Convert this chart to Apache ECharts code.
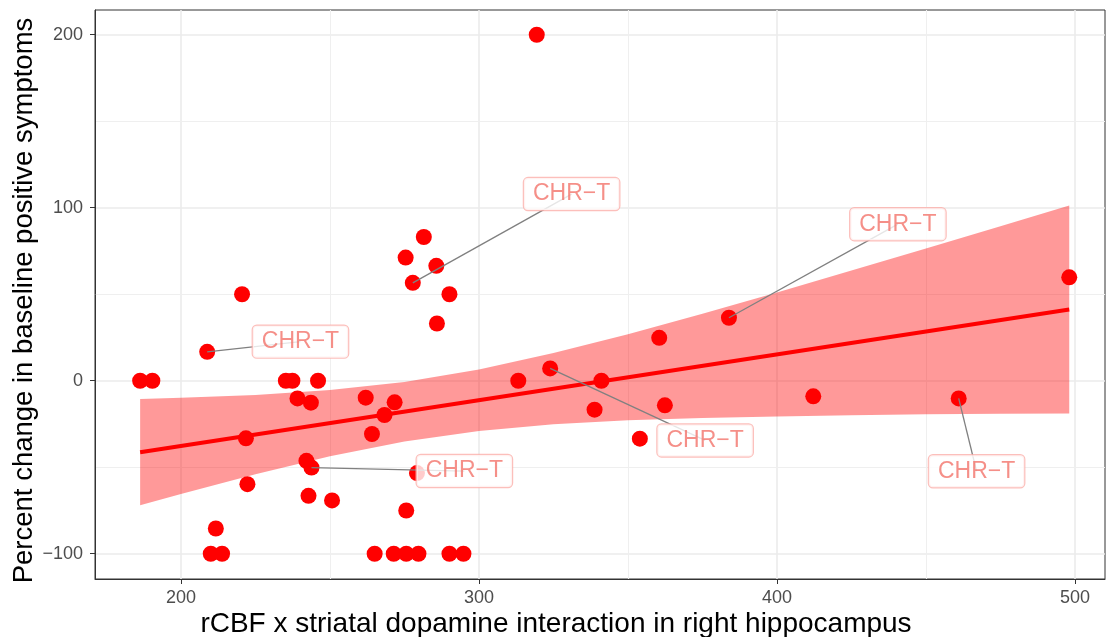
<!DOCTYPE html>
<html>
<head>
<meta charset="utf-8">
<script src="https://cdn.jsdelivr.net/npm/echarts@6/dist/echarts.min.js"></script>
<style>
html,body{margin:0;padding:0;background:#ffffff;}
#chart{width:1107px;height:637px;}
</style>
</head>
<body>
<div id="chart"></div>
<script>
// ---- data ----
const pointX = [186.3, 190.4, 208.8, 210.0, 213.8, 211.7, 220.5, 221.8, 222.3, 235.2,
                237.4, 246.0, 239.1, 243.6, 242.1, 243.8, 242.8, 250.7, 262.0, 271.7,
                268.3, 264.1, 279.2, 275.6, 265.0, 271.4, 275.6, 279.7, 290.1, 294.8,
                277.8, 290.1, 285.9, 281.5, 275.4, 285.7, 319.4, 313.2, 323.9, 341.1,
                338.8, 354.0, 362.4, 360.5, 383.9, 412.2, 461.0, 498.1];
const pointY = [0, 0, 16.7, -100, -100, -85.4, 50, -33.3, -59.8, 0,
                0, 0, -10.2, -12.7, -46.3, -50.2, -66.5, -69.2, -9.8, -12.5,
                -19.8, -30.8, -53.4, -75, -100, -100, -100, -100, -100, -100,
                56.6, 50, 33.1, 83.1, 71.2, 66.4, 200, 0, 7.1, 0,
                -16.7, -33.5, -14.2, 24.8, 36.4, -9.0, -10.2, 59.8];

const labelText = 'CHR\u2212T';
const labelPointIndex = [2, 30, 44, 38, 15, 46];
const labelX = [240.1, 331.1, 440.6, 375.9, 295.1, 467.0];
const labelY = [22.6, 107.9, 90.5, -34.5, -52.2, -52.3];

const fitX = [186.3, 498.1];
const fitY = [-41.3, 41.2];

const bandX     = [186.3, 200, 225, 250, 275, 300, 325, 350, 375, 400, 425, 450, 475, 498.1];
const bandLower = [-72.0, -65.5, -54.0, -43.6, -35.1, -29.0, -25.2, -22.9, -21.5, -20.6, -19.9, -19.4, -19.1, -18.9];
const bandUpper = [-10.6, -9.9, -8.2, -5.4, -0.7, 6.5, 16.0, 26.9, 38.7, 51.0, 63.7, 76.4, 89.3, 101.3];

const xTicks = [200, 300, 400, 500];
const yTicks = [-100, 0, 100, 200];
const xMinorGrid = [250, 350, 450];
const yMinorGrid = [-50, 50, 150];

const xTitle = 'rCBF x striatal dopamine interaction in right hippocampus';
const yTitle = 'Percent change in baseline positive symptoms';

// ---- chart ----
const FONT = 'Liberation Sans, Arial, Helvetica, sans-serif';
const chart = echarts.init(document.getElementById('chart'), null, {renderer: 'canvas'});

const segmentSeries = labelPointIndex.map((pi, k) => ({
  type: 'line',
  data: [[pointX[pi], pointY[pi]], [labelX[k], labelY[k]]],
  symbol: 'none',
  silent: true,
  lineStyle: {color: '#808080', width: 1.3},
  z: 5,
  animation: false
}));

const majorGrid = {color: '#EBEBEB', width: 1.6, type: 'solid'};
const minorGrid = {color: '#EFEFEF', width: 1.1, type: 'solid'};
const gridMarks = []
  .concat(xTicks.map(v => ({xAxis: v, lineStyle: majorGrid})))
  .concat(yTicks.map(v => ({yAxis: v, lineStyle: majorGrid})))
  .concat(xMinorGrid.map(v => ({xAxis: v, lineStyle: minorGrid})))
  .concat(yMinorGrid.map(v => ({yAxis: v, lineStyle: minorGrid})));

const option = {
  animation: false,
  backgroundColor: '#ffffff',
  grid: {
    left: 95, right: 2, top: 10, bottom: 58,
    containLabel: false,
    outerBoundsMode: 'none',
    show: true, borderColor: '#333333', borderWidth: 1, backgroundColor: 'transparent'
  },
  xAxis: {
    type: 'value',
    min: 171.15, max: 510.1,
    name: xTitle,
    nameLocation: 'middle',
    nameGap: 31,
    nameMoveOverlap: false,
    nameTextStyle: {fontSize: 28, color: '#000000', fontFamily: FONT, padding: [0, 88, 0, 0]},
    axisLine: {show: true, onZero: false, lineStyle: {color: '#333333', width: 1}},
    axisTick: {show: true, customValues: xTicks, length: 5, lineStyle: {color: '#333333', width: 1}},
    axisLabel: {customValues: xTicks, color: '#4D4D4D', fontSize: 18, margin: 10, fontFamily: FONT},
    splitLine: {show: false},
    minorSplitLine: {show: false}
  },
  yAxis: {
    type: 'value',
    min: -114.6, max: 214.3,
    name: yTitle,
    nameLocation: 'middle',
    nameGap: 57,
    nameMoveOverlap: false,
    nameTextStyle: {fontSize: 27.5, color: '#000000', fontFamily: FONT, padding: [0, 12, 0, 0]},
    axisLine: {show: true, onZero: false, lineStyle: {color: '#333333', width: 1}},
    axisTick: {show: true, customValues: yTicks, length: 5, lineStyle: {color: '#333333', width: 1}},
    axisLabel: {
      customValues: yTicks, color: '#4D4D4D', fontSize: 18, margin: 12, fontFamily: FONT,
      formatter: v => String(v).replace('-', '\u2212')
    },
    splitLine: {show: false},
    minorSplitLine: {show: false}
  },
  series: [
    {
      type: 'scatter',
      z: 0,
      silent: true,
      data: [],
      markLine: {
        z: 0,
        silent: true,
        symbol: ['none', 'none'],
        label: {show: false},
        animation: false,
        data: gridMarks
      }
    },
    {
      type: 'custom',
      z: 2,
      silent: true,
      data: [[bandX[0], bandLower[0]]],
      renderItem: function (params, api) {
        const pts = [];
        for (let i = 0; i < bandX.length; i++) pts.push(api.coord([bandX[i], bandUpper[i]]));
        for (let i = bandX.length - 1; i >= 0; i--) pts.push(api.coord([bandX[i], bandLower[i]]));
        return {type: 'polygon', shape: {points: pts}, style: {fill: 'rgba(255,0,0,0.4)', stroke: null}};
      }
    },
    {
      type: 'scatter',
      z: 3,
      symbolSize: 16,
      itemStyle: {color: '#FF0000', opacity: 1},
      data: pointX.map((x, i) => [x, pointY[i]])
    },
    {
      type: 'line',
      z: 4,
      symbol: 'none',
      silent: true,
      lineStyle: {color: '#FF0000', width: 4},
      data: fitX.map((x, i) => [x, fitY[i]])
    },
    ...segmentSeries,
    {
      type: 'scatter',
      z: 6,
      symbolSize: 0,
      itemStyle: {color: 'rgba(0,0,0,0)'},
      data: labelX.map((x, i) => [x, labelY[i]]),
      label: {
        show: true,
        position: 'inside',
        formatter: () => labelText,
        color: '#F2736A',
        fontSize: 23,
        fontFamily: FONT,
        backgroundColor: '#ffffff',
        borderColor: '#FBAFAA',
        borderWidth: 1.2,
        borderRadius: 4,
        padding: [5, 9, 4, 9],
        lineHeight: 23
      }
    }
  ]
};
chart.setOption(option);
</script>
</body>
</html>
